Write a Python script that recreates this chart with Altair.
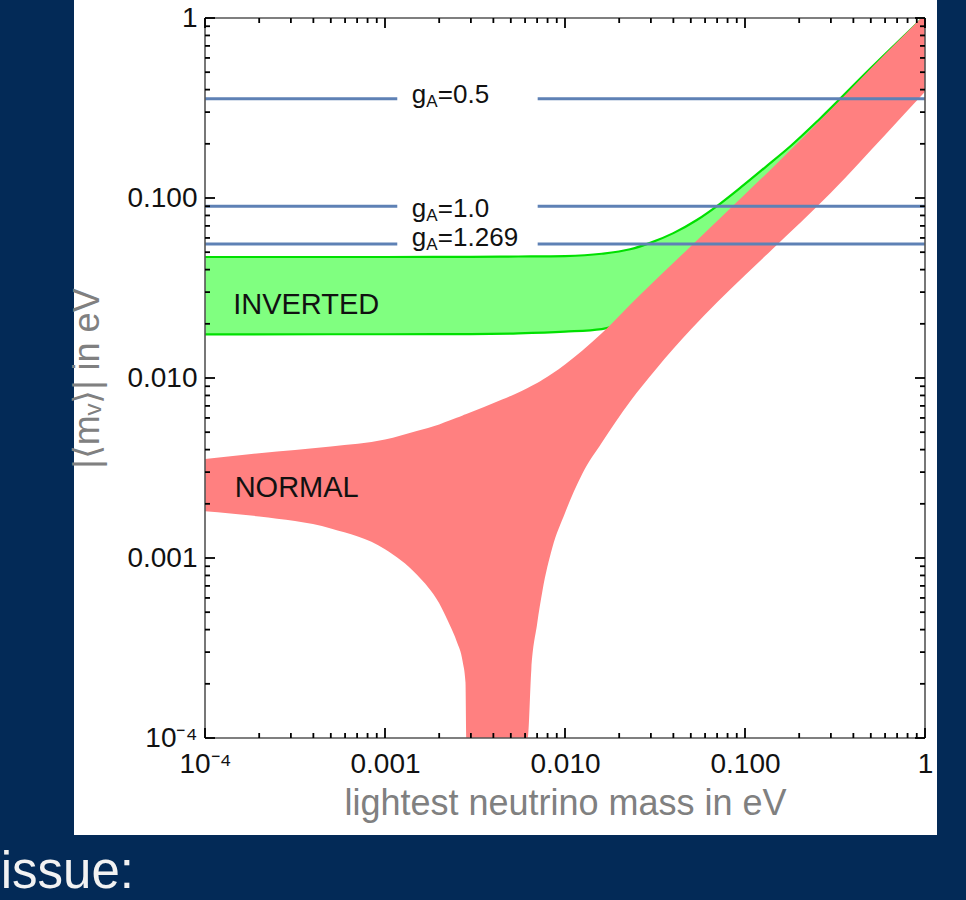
import altair as alt
import pandas as pd

# ---- data -------------------------------------------------------------
# Normal ordering band: lightest neutrino mass (eV) and the lower/upper |<m_nu>| (eV)
normal_m = [0.0001, 0.0002, 0.0005, 0.001, 0.0015, 0.002, 0.0023, 0.0025, 0.0027, 0.0028, 0.00283,
            0.00355, 0.00447, 0.00525,
            0.0062, 0.0065, 0.007, 0.0075, 0.0085, 0.01, 0.0112, 0.0125, 0.016, 0.023, 0.032, 0.05,
            0.1, 0.14, 0.3, 0.6, 1.0]
normal_hi = [0.00355, 0.00382, 0.00416, 0.00455, 0.00508, 0.00552, 0.00582, 0.00601, 0.00619, 0.00628,
             0.00631, 0.0069, 0.00759, 0.00813,
             0.00881, 0.00902, 0.00938, 0.00977, 0.0106, 0.0119, 0.013, 0.0142, 0.0177, 0.0255,
             0.0352, 0.054, 0.105, 0.145, 0.31, 0.631, 1.05]
normal_lo = [0.00182, 0.0017, 0.00146, 0.00112, 0.00081, 0.00056, 0.00042, 0.000345, 0.000266,
             0.000204, 0.0001, 0.0001, 0.0001, 0.0001,
             0.0001, 0.00024, 0.00043, 0.00066, 0.00114, 0.00178, 0.00234, 0.00295,
             0.00437, 0.00741, 0.0112, 0.0186, 0.0372, 0.0513, 0.107, 0.224, 0.389]

# Inverted ordering band
inverted_m = [0.0001, 0.0005, 0.001, 0.003, 0.0055, 0.01, 0.016, 0.023, 0.03, 0.04, 0.054, 0.072,
              0.095, 0.13, 0.18, 0.26, 0.5, 1.0]
inverted_hi = [0.047, 0.047, 0.047, 0.0471, 0.0473, 0.0476, 0.049, 0.0519, 0.0565, 0.0638, 0.0755,
               0.0923, 0.1148, 0.1486, 0.195, 0.275, 0.527, 1.028]
inverted_lo = [0.01746, 0.0175, 0.0175, 0.01754, 0.0177, 0.0181, 0.0187, 0.0207, 0.0224, 0.0245,
               0.0302, 0.0355, 0.0427, 0.0562, 0.0759, 0.105, 0.2, 0.417]

# Sensitivity levels for different axial couplings, broken where the label sits
ga_names = ["0.5", "1.0", "1.269"]
ga_level = [0.356, 0.090, 0.0556]
ga_gap = [0.00117, 0.00705]
ga_label_x = [0.00141, 0.00141, 0.00141]
ga_label_y = [0.374, 0.0869, 0.0598]

# Region names
region_names = ["INVERTED", "NORMAL"]
region_x = [0.000365, 0.000323]
region_y = [0.0255, 0.00245]

# Axis ticks and labels
decades = [0.0001, 0.001, 0.01, 0.1, 1.0]
x_tick_labels = ["10\u207b\u2074", "0.001", "0.010", "0.100", "1"]
y_tick_labels = ["10\u207b\u2074", "0.001", "0.010", "0.100", "1"]
minor_steps = [2, 3, 4, 5, 6, 7, 8, 9]
minor_ticks = [k * d for d in decades[:-1] for k in minor_steps]

# ---- tables -----------------------------------------------------------
normal_df = pd.DataFrame({"m": normal_m, "hi": normal_hi, "lo": normal_lo})
inverted_df = pd.DataFrame({"m": inverted_m, "hi": inverted_hi, "lo": inverted_lo})

seg_rows = []
for name, level in zip(ga_names, ga_level):
    seg_rows += [
        {"key": name + "-a", "x": decades[0], "y": level},
        {"key": name + "-a", "x": ga_gap[0], "y": level},
        {"key": name + "-b", "x": ga_gap[1], "y": level},
        {"key": name + "-b", "x": decades[-1], "y": level},
    ]
ga_lines_df = pd.DataFrame(seg_rows)
ga_label_df = pd.DataFrame({"x": ga_label_x, "y": ga_label_y,
                            "eq": ["=" + n for n in ga_names]})
region_df = pd.DataFrame({"x": region_x, "y": region_y, "name": region_names})
major_df = pd.DataFrame({"v": decades})
minor_df = pd.DataFrame({"v": minor_ticks})
one_row = pd.DataFrame({"k": [0]})

# ---- styling ----------------------------------------------------------
W = H = 720
TOP = 18
LEFT = 205
FONT = "Liberation Sans"
NAVY = "#032a57"


def label_expr(values, labels):
    expr = f"'{labels[0]}'"
    for v, lab in zip(values[1:], labels[1:]):
        expr = f"datum.value > {v / 2} ? '{lab}' : ({expr})"
    return expr


x_scale = alt.Scale(type="log", domain=[decades[0], decades[-1]], nice=False)
y_scale = alt.Scale(type="log", domain=[decades[0], decades[-1]], nice=False)

common_axis = dict(grid=False, ticks=False, tickSize=0, domain=False, labelFont=FONT,
                   labelFontSize=28, labelColor="#111111", labelFlush=False,
                   titleFont=FONT, titleFontSize=36, titleFontWeight="normal",
                   titleColor="#808080", zindex=1, labelOverlap=False)
x_axis = alt.Axis(values=decades, labelExpr=label_expr(decades, x_tick_labels),
                  labelPadding=12, titlePadding=8,
                  title="lightest neutrino mass in eV", **common_axis)
y_axis = alt.Axis(values=decades, labelExpr=label_expr(decades, y_tick_labels),
                  labelPadding=8, titlePadding=20,
                  title="|\u27e8m\u1d65\u27e9| in eV", **common_axis)


def xenc(field):
    return alt.X(f"{field}:Q", scale=x_scale, axis=x_axis)


def yenc(field):
    return alt.Y(f"{field}:Q", scale=y_scale, axis=y_axis)


# ---- layers -----------------------------------------------------------
card = alt.Chart(one_row).mark_rect(color="#ffffff").encode(
    x=alt.value(-131), x2=alt.value(W + 12), y=alt.value(-TOP - 10), y2=alt.value(H + 97))

inv_area = alt.Chart(inverted_df).mark_area(color="#80ff80", clip=True, interpolate="monotone").encode(
    x=xenc("m"), y=yenc("hi"), y2="lo:Q")
inv_hi = alt.Chart(inverted_df).mark_line(color="#00e000", strokeWidth=2.2, clip=True,
                                          interpolate="monotone").encode(x=xenc("m"), y=yenc("hi"))
inv_lo = alt.Chart(inverted_df).mark_line(color="#00e000", strokeWidth=2.2, clip=True,
                                          interpolate="monotone").encode(x=xenc("m"), y=yenc("lo"))

nor_area = alt.Chart(normal_df).mark_area(color="#ff8080", clip=True, interpolate="monotone").encode(
    x=xenc("m"), y=yenc("hi"), y2="lo:Q")

ga_lines = alt.Chart(ga_lines_df).mark_line(color="#5e81b5", strokeWidth=3, clip=True).encode(
    x=xenc("x"), y=yenc("y"), detail="key:N", order="x:Q")

ga_g = alt.Chart(ga_label_df).mark_text(align="left", baseline="middle", font=FONT, fontSize=26,
                                        color="#111111").encode(x=xenc("x"), y=yenc("y"), text=alt.value("g"))
ga_a = alt.Chart(ga_label_df).mark_text(align="left", baseline="middle", font=FONT, fontSize=17,
                                        color="#111111", dx=14.5, dy=7).encode(
    x=xenc("x"), y=yenc("y"), text=alt.value("A"))
ga_eq = alt.Chart(ga_label_df).mark_text(align="left", baseline="middle", font=FONT, fontSize=26,
                                         color="#111111", dx=26).encode(
    x=xenc("x"), y=yenc("y"), text="eq:N")

regions = alt.Chart(region_df).mark_text(align="center", baseline="middle", font=FONT, fontSize=29,
                                         color="#111111").encode(x=xenc("x"), y=yenc("y"), text="name:N")

frame_color = "#555555"
frame = [
    alt.Chart(one_row).mark_rule(color=frame_color, strokeWidth=1.6).encode(
        x=alt.datum(decades[0])),
    alt.Chart(one_row).mark_rule(color=frame_color, strokeWidth=1.6).encode(
        x=alt.datum(decades[-1])),
    alt.Chart(one_row).mark_rule(color=frame_color, strokeWidth=1.6).encode(
        y=alt.datum(decades[0])),
    alt.Chart(one_row).mark_rule(color=frame_color, strokeWidth=1.6).encode(
        y=alt.datum(decades[-1])),
]


def tick_layers(df, length):
    rule = dict(color="black", strokeWidth=1.8)
    return [
        alt.Chart(df).mark_rule(**rule).encode(x=xenc("v"), y=alt.value(H), y2=alt.value(H - length)),
        alt.Chart(df).mark_rule(**rule).encode(x=xenc("v"), y=alt.value(0), y2=alt.value(length)),
        alt.Chart(df).mark_rule(**rule).encode(y=yenc("v"), x=alt.value(0), x2=alt.value(length)),
        alt.Chart(df).mark_rule(**rule).encode(y=yenc("v"), x=alt.value(W), x2=alt.value(W - length)),
    ]


issue = alt.Chart(one_row).mark_text(align="right", baseline="alphabetic", font=FONT, fontSize=51,
                                     color="#f2f2f2").encode(
    x=alt.value(134 - LEFT), y=alt.value(888 - TOP), text=alt.value("issue:"))

chart = alt.layer(
    card, inv_area, inv_hi, inv_lo, nor_area, ga_lines, ga_g, ga_a, ga_eq, regions,
    *frame, *tick_layers(major_df, 10), *tick_layers(minor_df, 5), issue,
).properties(
    width=W, height=H,
    padding={"left": LEFT, "top": TOP, "right": 966 - LEFT - W, "bottom": 900 - TOP - H},
    autosize=alt.AutoSizeParams(type="none"),
    background=NAVY,
).configure_view(stroke=None)

chart.save("out.html", embed_options={"renderer": "svg", "actions": False})
